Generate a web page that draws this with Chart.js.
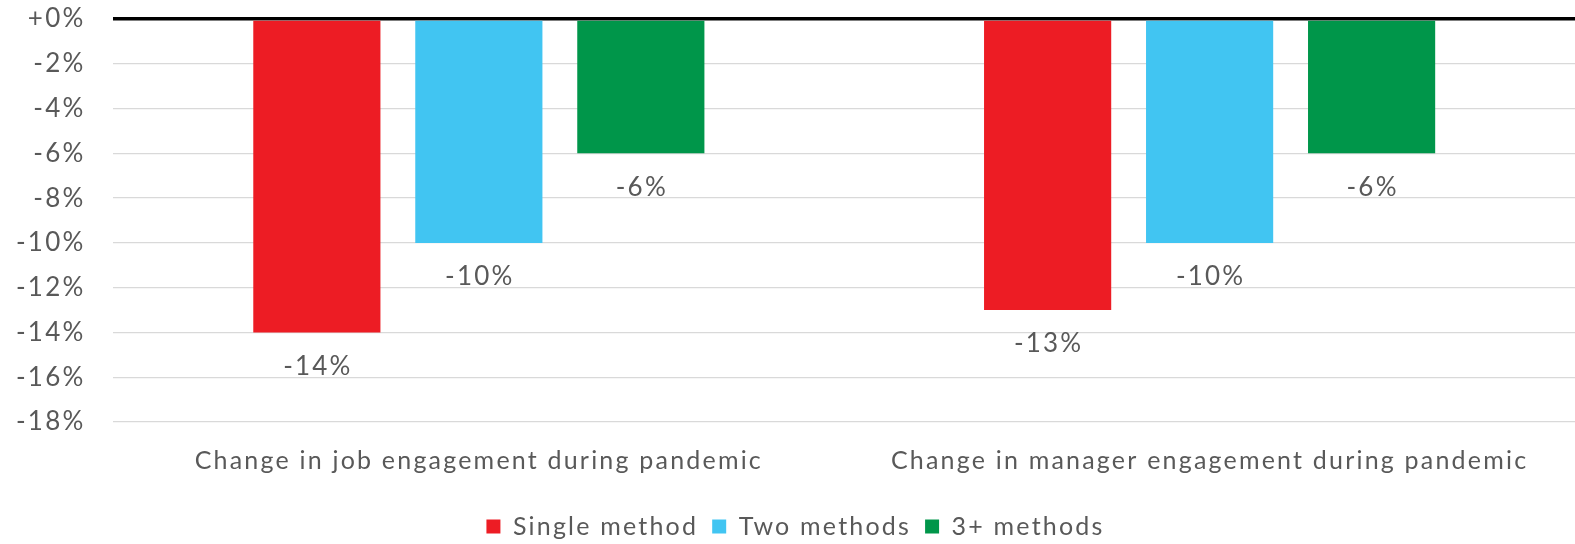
<!DOCTYPE html>
<html>
<head>
<meta charset="utf-8">
<script src="https://cdn.jsdelivr.net/npm/chart.js@4/dist/chart.umd.min.js"></script>
<style>
  html, body { margin: 0; padding: 0; background: #ffffff; }
  #wrap { width: 1575px; height: 544px; position: relative; }
</style>
</head>
<body>
<div id="wrap"><canvas id="chart"></canvas></div>
<script>
// Categories and series (percentage change)
const categories = [
  "Change in job engagement during pandemic",
  "Change in manager engagement during pandemic"
];
const seriesNames = ["Single method", "Two methods", "3+ methods"];
const singleMethod = [-14, -13];
const twoMethods = [-10, -10];
const threePlusMethods = [-6, -6];
const seriesColors = ["#ED1C24", "#41C5F2", "#00964A"];
const yTicks = [0, -2, -4, -6, -8, -10, -12, -14, -16, -18];

const FONT = "Lato, 'Open Sans', sans-serif";
const TEXT = "#595959";
const SPACING = "2.2px";

function fmtPct(v) {
  return (v >= 0 ? "+" : "") + v + "%";
}

// Slightly open letter spacing for all canvas text
const textSpacing = {
  id: "textSpacing",
  beforeUpdate(chart) { chart.ctx.letterSpacing = SPACING; },
  beforeLayout(chart) { chart.ctx.letterSpacing = SPACING; },
  beforeDraw(chart) { chart.ctx.letterSpacing = SPACING; }
};

// Value labels under each bar end
const barLabels = {
  id: "barLabels",
  afterDatasetsDraw(chart) {
    const ctx = chart.ctx;
    ctx.save();
    ctx.letterSpacing = SPACING;
    ctx.font = "26px " + FONT;
    ctx.fillStyle = TEXT;
    ctx.textAlign = "center";
    ctx.textBaseline = "middle";
    chart.data.datasets.forEach((ds, di) => {
      const meta = chart.getDatasetMeta(di);
      meta.data.forEach((bar, i) => {
        ctx.fillText(fmtPct(ds.data[i]), bar.x + 1, bar.y + 34);
      });
    });
    ctx.restore();
  }
};

const seriesData = [singleMethod, twoMethods, threePlusMethods];

new Chart(document.getElementById("chart"), {
  type: "bar",
  data: {
    labels: categories,
    datasets: seriesNames.map((name, i) => ({
      label: name,
      data: seriesData[i],
      backgroundColor: seriesColors[i],
      borderWidth: 0,
      categoryPercentage: 0.665,
      barPercentage: 0.785
    }))
  },
  options: {
    responsive: true,
    maintainAspectRatio: false,
    animation: false,
    layout: { padding: { top: 19, right: 0, left: 16, bottom: -5 } },
    scales: {
      x: {
        grid: { display: false, drawTicks: false },
        border: { display: false },
        ticks: {
          color: TEXT,
          font: { family: FONT, size: 25 },
          padding: 24
        }
      },
      y: {
        min: -18,
        max: 0,
        afterBuildTicks(scale) {
          scale.ticks = yTicks.map(v => ({ value: v }));
        },
        grid: {
          drawTicks: true,
          tickLength: 28,
          tickColor: "rgba(0,0,0,0)",
          color: ctx => ctx.tick && ctx.tick.value === 0 ? "#000000" : "#D9D9D9",
          lineWidth: ctx => ctx.tick && ctx.tick.value === 0 ? 3.5 : 1.3
        },
        border: { display: false },
        ticks: {
          color: TEXT,
          font: { family: FONT, size: 26 },
          padding: 0,
          callback: v => fmtPct(v)
        }
      }
    },
    plugins: {
      legend: {
        position: "bottom",
        labels: {
          color: TEXT,
          font: { family: FONT, size: 25 },
          boxWidth: 14,
          boxHeight: 14,
          padding: 14
        }
      },
      tooltip: { enabled: false }
    }
  },
  plugins: [textSpacing, barLabels]
});
</script>
</body>
</html>
